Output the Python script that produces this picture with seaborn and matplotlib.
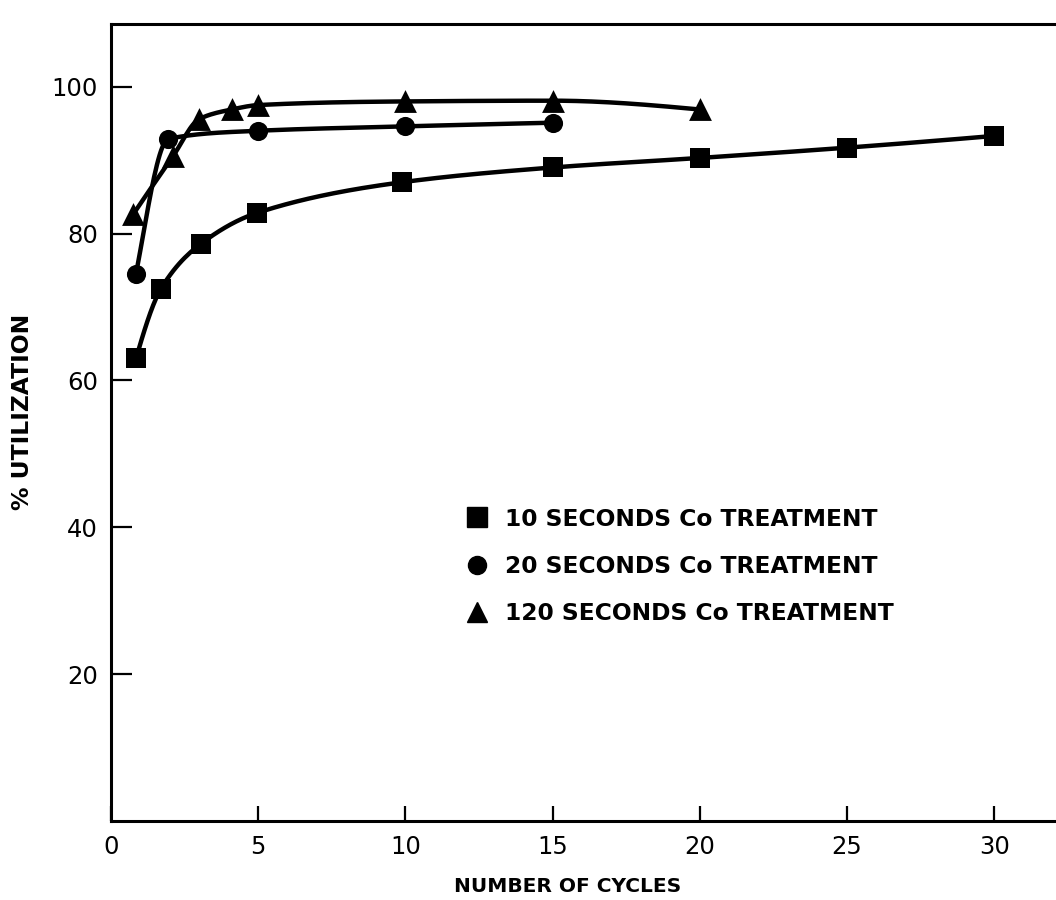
import numpy as np
import pandas as pd
import matplotlib
matplotlib.use("Agg")
import matplotlib.pyplot as plt
from matplotlib.lines import Line2D
import seaborn as sns

# ---- data ----
sq_x = [0.85, 1.7, 3.05, 4.95, 9.9, 15, 20, 25, 30]
sq_y = [63.0, 72.5, 78.6, 82.8, 87.0, 89.0, 90.3, 91.7, 93.3]
ci_x = [0.85, 1.95, 5.0, 10.0, 15.0]
ci_y = [74.5, 92.9, 94.0, 94.6, 95.1]
tr_x = [0.75, 2.1, 3.0, 4.1, 5.0, 10.0, 15.0, 20.0]
tr_y = [82.6, 90.5, 95.6, 96.9, 97.5, 98.0, 98.1, 96.9]
series_names = ["10 SECONDS Co TREATMENT", "20 SECONDS Co TREATMENT", "120 SECONDS Co TREATMENT"]
x_ticks = [0, 5, 10, 15, 20, 25, 30]
y_ticks = [20, 40, 60, 80, 100]


def pchip_curve(x, y, num=300):
    """Monotone cubic curve through the points (for drawing the smooth line)."""
    x = np.asarray(x, float); y = np.asarray(y, float)
    n = len(x)
    h = np.diff(x); d = np.diff(y) / h
    m = np.zeros(n)
    for k in range(1, n - 1):
        if d[k - 1] * d[k] > 0:
            w1 = 2 * h[k] + h[k - 1]; w2 = h[k] + 2 * h[k - 1]
            m[k] = (w1 + w2) / (w1 / d[k - 1] + w2 / d[k])
    def end(h0, h1, d0, d1):
        s = ((2 * h0 + h1) * d0 - h0 * d1) / (h0 + h1)
        if np.sign(s) != np.sign(d0):
            s = 0.0
        elif np.sign(d0) != np.sign(d1) and abs(s) > abs(3 * d0):
            s = 3 * d0
        return s
    m[0] = end(h[0], h[1], d[0], d[1])
    m[-1] = end(h[-1], h[-2], d[-1], d[-2])
    xs = np.linspace(x[0], x[-1], num)
    idx = np.clip(np.searchsorted(x, xs) - 1, 0, n - 2)
    t = (xs - x[idx]) / h[idx]
    h00 = 2 * t**3 - 3 * t**2 + 1; h10 = t**3 - 2 * t**2 + t
    h01 = -2 * t**3 + 3 * t**2; h11 = t**3 - t**2
    ys = h00 * y[idx] + h10 * h[idx] * m[idx] + h01 * y[idx + 1] + h11 * h[idx] * m[idx + 1]
    return xs, ys


sns.set_theme(style="white")
plt.rcParams["font.family"] = ["DejaVu Sans"]
plt.rcParams["text.color"] = "black"
plt.rcParams["axes.labelcolor"] = "black"
plt.rcParams["xtick.color"] = "black"
plt.rcParams["ytick.color"] = "black"

fig = plt.figure(figsize=(10.56, 9.0), dpi=100)
ax = fig.add_axes([0.1051, 0.0878, 0.8949, 0.886])

pts = pd.DataFrame({
    "x": sq_x + ci_x + tr_x,
    "y": sq_y + ci_y + tr_y,
    "series": [series_names[0]] * len(sq_x) + [series_names[1]] * len(ci_x) + [series_names[2]] * len(tr_x),
})

curves = []
for name, xs, ys in [(series_names[0], sq_x, sq_y), (series_names[1], ci_x, ci_y), (series_names[2], tr_x, tr_y)]:
    cx, cy = pchip_curve(xs, ys)
    curves.append(pd.DataFrame({"x": cx, "y": cy, "series": name}))
curves = pd.concat(curves, ignore_index=True)

pal = {n: "black" for n in series_names}
sns.lineplot(data=curves, x="x", y="y", hue="series", palette=pal, estimator=None,
             sort=False, linewidth=3.2, legend=False, ax=ax)
markers = {series_names[0]: "s", series_names[1]: "o", series_names[2]: "^"}
sizes = {series_names[0]: 220, series_names[1]: 190, series_names[2]: 270}
for name in series_names:
    sub = pts[pts.series == name]
    sns.scatterplot(data=sub, x="x", y="y", marker=markers[name], color="black",
                    s=sizes[name], linewidth=0, legend=False, ax=ax, zorder=5)

ax.set_xlim(0, 32.1)
ax.set_ylim(0, 108.6)
ax.set_xticks(x_ticks)
ax.set_yticks(y_ticks)
ax.set_xticklabels([str(v) for v in x_ticks])
ax.set_yticklabels([str(v) for v in y_ticks])
ax.tick_params(axis="x", direction="in", length=11, width=1.6, pad=10, labelsize=17.5, colors="black")
ax.tick_params(axis="y", direction="in", length=15, width=1.6, pad=9.5, labelsize=17.5, colors="black")
ax.tick_params(axis="x", which="both", bottom=True)
ax.tick_params(axis="y", which="both", left=True)

for s in ["left", "bottom", "top"]:
    ax.spines[s].set_visible(True)
    ax.spines[s].set_color("black")
    ax.spines[s].set_linewidth(2.2)
ax.spines["right"].set_visible(False)

ax.set_xlabel("NUMBER OF CYCLES", fontsize=14.5, fontweight="bold", color="black")
ax.set_ylabel("% UTILIZATION", fontsize=16.9, fontweight="bold", color="black")
ax.xaxis.set_label_coords((568 - 111) / 945, -0.07)
ax.yaxis.set_label_coords((34 - 111) / 945, 0.513)

handles = [Line2D([], [], marker=markers[n], color="black", linestyle="none",
                  markersize={"s": 14.5, "o": 13, "^": 15}[markers[n]]) for n in series_names]
leg = ax.legend(handles, series_names, loc="upper left", frameon=False,
                bbox_to_anchor=(466.5 / 1056, 1 - 507.5 / 900), bbox_transform=fig.transFigure,
                handlelength=0.9, handletextpad=0.75, labelspacing=1.05, borderpad=0,
                borderaxespad=0, prop={"size": 16.8, "weight": "bold"})
for t in leg.get_texts():
    t.set_color("black")

fig.savefig("out.png", dpi=100, facecolor="white")
